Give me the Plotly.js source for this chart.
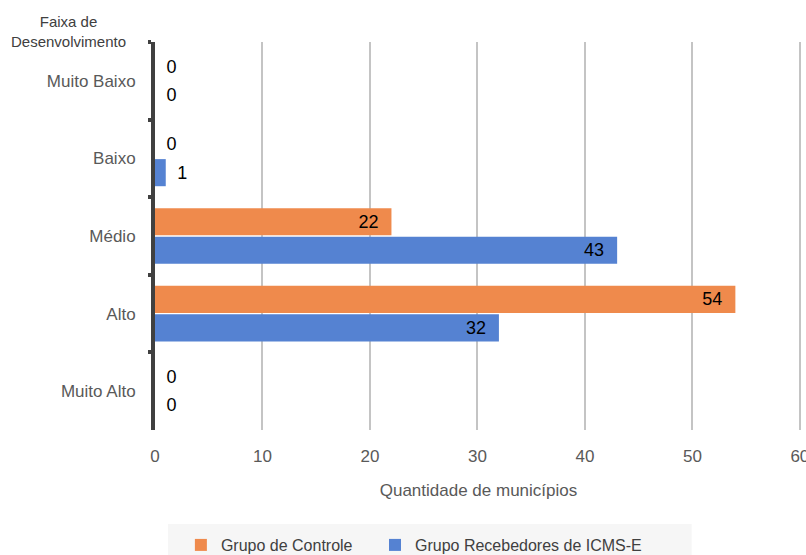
<!DOCTYPE html>
<html>
<head>
<meta charset="utf-8">
<script src="https://cdn.plot.ly/plotly-3.0.1.min.js"></script>
<style>
  html, body { margin: 0; padding: 0; background: #ffffff; }
  #chart { width: 806px; height: 555px; }
</style>
</head>
<body>
<div id="chart"></div>
<script>
// Faixas de desenvolvimento (de cima para baixo)
const faixas = ['Muito Baixo', 'Baixo', 'Médio', 'Alto', 'Muito Alto'];

// Quantidade de municípios por grupo
const grupoControle = [0, 0, 22, 54, 0];
const grupoICMSE = [0, 1, 43, 32, 0];

const nomeControle = 'Grupo de Controle';
const nomeICMSE = 'Grupo Recebedores de ICMS-E';

const xTicks = [0, 10, 20, 30, 40, 50, 60];

const NB = '\u00a0';
const FONTE = 'Liberation Sans, Arial, sans-serif';

// Rótulos: dentro da barra (alinhados ao fim) para valores grandes, fora para os pequenos
function rotulos(vals) {
  return vals.map(v => v >= 10 ? String(v) + NB + NB : NB + '\u2009' + String(v));
}
function posicoes(vals) {
  return vals.map(v => v >= 10 ? 'inside' : 'outside');
}

function serie(vals, nome, cor, legenda) {
  const fonte = { family: FONTE, size: 18, color: '#000000' };
  return {
    type: 'bar',
    orientation: 'h',
    name: nome,
    legend: legenda,
    y: faixas,
    x: vals,
    text: rotulos(vals),
    textposition: posicoes(vals),
    insidetextanchor: 'end',
    textfont: fonte,
    insidetextfont: fonte,
    outsidetextfont: fonte,
    cliponaxis: false,
    marker: { color: cor, line: { width: 0 } },
    hoverinfo: 'x+name'
  };
}

const data = [
  serie(grupoControle, nomeControle, '#EF8A4C', 'legend'),
  serie(grupoICMSE, nomeICMSE, '#5582D2', 'legend2')
];

const cinza = '#595959';

// Legenda comum às duas entradas
function legenda(x) {
  return {
    orientation: 'h',
    x: x,
    xanchor: 'left',
    yref: 'container',
    y: 0.018,
    yanchor: 'middle',
    bgcolor: 'rgba(0,0,0,0)',
    font: { size: 16, color: '#404040' }
  };
}

const layout = {
  width: 806,
  height: 555,
  margin: { l: 155, r: 4, t: 42, b: 125, pad: 0, autoexpand: false },
  paper_bgcolor: '#ffffff',
  plot_bgcolor: '#ffffff',
  font: { family: FONTE, color: cinza, size: 17 },
  barmode: 'group',
  bargap: 0.265,
  bargroupgap: 0.05,
  showlegend: true,
  xaxis: {
    range: [0, 60.2],
    tickvals: xTicks,
    ticktext: xTicks.map(String),
    showgrid: true,
    gridcolor: '#c4c4c4',
    gridwidth: 2,
    zeroline: false,
    showline: false,
    ticks: '',
    ticklabelstandoff: 14,
    ticklabeloverflow: 'allow',
    tickfont: { size: 17, color: cinza },
    title: { text: 'Quantidade de municípios', font: { size: 17, color: cinza }, standoff: 19 },
    automargin: false,
    fixedrange: true
  },
  yaxis: {
    type: 'category',
    range: [4.5, -0.5],
    showgrid: false,
    zeroline: false,
    showline: true,
    linecolor: '#404040',
    linewidth: 4,
    ticks: 'outside',
    tickson: 'boundaries',
    ticklen: 3,
    tickwidth: 4,
    tickcolor: '#404040',
    ticklabelstandoff: 12,
    tickfont: { size: 17, color: cinza },
    automargin: false,
    fixedrange: true
  },
  legend: legenda(0.04),
  legend2: legenda(0.340),
  shapes: [{
    type: 'rect',
    xref: 'paper', yref: 'paper',
    x0: 0.0201, x1: 0.8295,
    y0: -0.242, y1: -0.36,
    fillcolor: '#f6f6f6',
    line: { width: 0 },
    layer: 'below'
  }],
  annotations: [{
    xref: 'paper', yref: 'paper',
    x: -0.134, y: 1.028,
    xanchor: 'center', yanchor: 'middle',
    showarrow: false,
    align: 'center',
    text: 'Faixa de<br>Desenvolvimento',
    font: { size: 15, color: '#404040' }
  }]
};

Plotly.newPlot('chart', data, layout, { displayModeBar: false, staticPlot: true });
</script>
</body>
</html>
